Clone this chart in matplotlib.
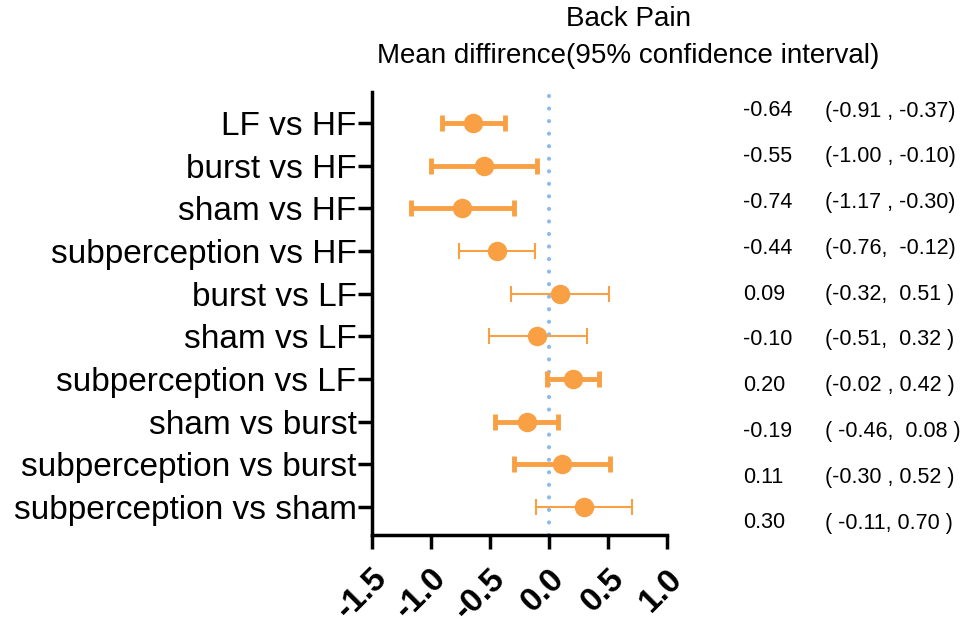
import matplotlib.pyplot as plt
import numpy as np

plt.rcParams['font.family'] = ['Liberation Sans', 'Noto Sans CJK SC', 'DejaVu Sans']

# comparisons, top to bottom
labels = ['LF vs HF', 'burst vs HF', 'sham vs HF', 'subperception vs HF',
          'burst vs LF', 'sham vs LF', 'subperception vs LF', 'sham vs burst',
          'subperception vs burst', 'subperception vs sham']
mean = [-0.64, -0.55, -0.74, -0.44, 0.09, -0.10, 0.20, -0.19, 0.11, 0.30]
low = [-0.91, -1.00, -1.17, -0.76, -0.32, -0.51, -0.02, -0.46, -0.30, -0.11]
high = [-0.37, -0.10, -0.30, -0.12, 0.51, 0.32, 0.42, 0.08, 0.52, 0.70]
thick = [True, True, True, False, False, False, True, True, True, False]
ci_text = ['(-0.91 , -0.37)', '(-1.00 , -0.10)', '(-1.17 , -0.30)',
           '(-0.76,  -0.12)', '(-0.32,  0.51 )', '(-0.51,  0.32 )',
           '(-0.02 , 0.42 )', '( -0.46,  0.08 )', '(-0.30 , 0.52 )',
           '( -0.11, 0.70 )']

col = '#F9A044'

fig = plt.figure(figsize=(9.71, 6.27), dpi=100)
ax = fig.add_axes([0.383, 0.1467, 0.304, 0.7066])

y = np.arange(1, len(labels) + 1)
for i in range(len(labels)):
    lw = 3.5 if thick[i] else 1.5
    ax.errorbar(mean[i], y[i], xerr=[[mean[i] - low[i]], [high[i] - mean[i]]],
                fmt='o', color=col, ms=13, elinewidth=lw, capsize=6,
                capthick=lw, zorder=3)

ax.axvline(0, color='#8ABAF0', lw=3, ls=(0, (0.01, 3)),
           dash_capstyle='round', zorder=1)

ax.set_xlim(-1.5, 1.0)
ax.set_ylim(10.66, 0.27)
ax.set_xticks([-1.5, -1.0, -0.5, 0.0, 0.5, 1.0])
ax.set_xticklabels(['-1.5', '-1.0', '-0.5', '0.0', '0.5', '1.0'],
                   rotation=45, ha='right', rotation_mode='anchor',
                   fontsize=24, fontweight='bold')
ax.set_yticks(y)
ax.set_yticklabels(labels, fontsize=24)

for s in ['top', 'right']:
    ax.spines[s].set_visible(False)
for s in ['left', 'bottom']:
    ax.spines[s].set_linewidth(2.5)
ax.tick_params(axis='both', length=10, width=2.5, direction='out')
ax.tick_params(axis='y', pad=1)
ax.tick_params(axis='x', pad=10)

fig.text(0.647, 0.970, 'Back Pain', ha='center', va='center', fontsize=20)
fig.text(0.647, 0.910, 'Mean diffirence(95% confidence interval)',
         ha='center', va='center', fontsize=20)

ty = np.linspace(1 - 111 / 627, 1 - 523 / 627, len(labels))
for i in range(len(labels)):
    fig.text(0.765, ty[i], '%.2f' % mean[i], ha='left', va='center', fontsize=15.5)
    fig.text(0.850, ty[i], ci_text[i], ha='left', va='center', fontsize=15.5)

fig.savefig('out.png', dpi=100)
